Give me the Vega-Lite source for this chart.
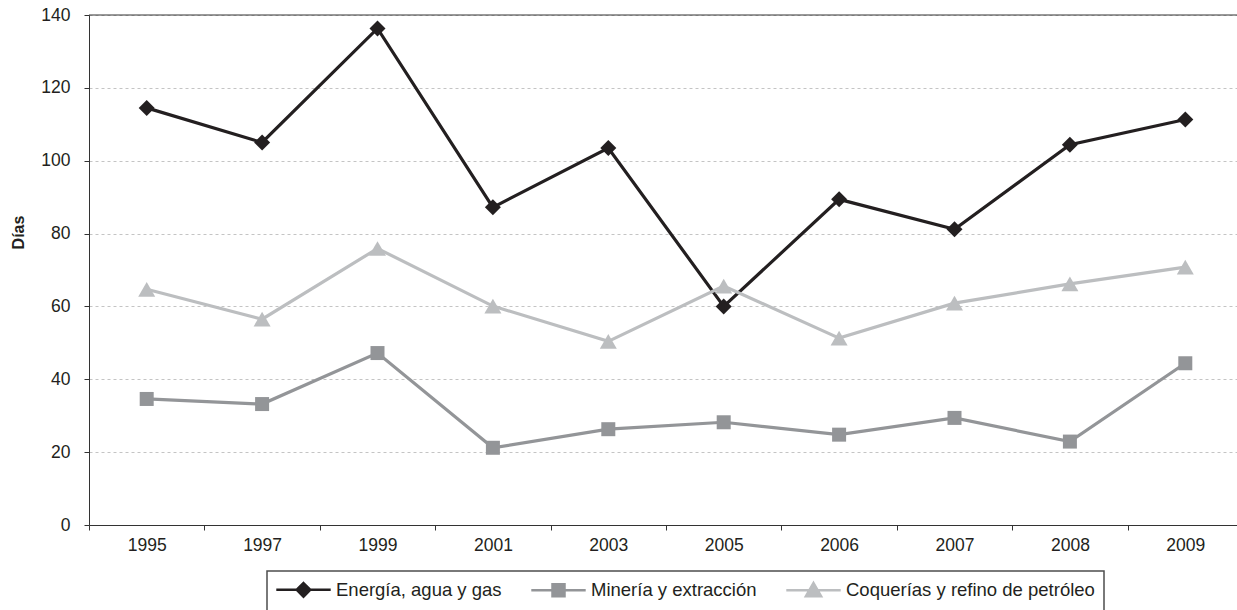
{
  "$schema": "https://vega.github.io/schema/vega-lite/v6.json",
  "width": 1148,
  "height": 510,
  "autosize": {"type": "none"},
  "padding": {"left": 89, "top": 15, "right": 0, "bottom": 85},
  "background": "white",
  "config": {
    "view": {"stroke": null},
    "font": "Liberation Sans",
    "axis": {
      "labelFont": "Liberation Sans",
      "labelColor": "#231f20",
      "labelFontSize": 17.5,
      "domainColor": "#333333",
      "tickColor": "#333333",
      "domainWidth": 1,
      "tickWidth": 1
    }
  },
  "datasets": {
    "main": [
      {"year": "1995", "serie": "Energía, agua y gas", "dias": 114.5},
      {"year": "1997", "serie": "Energía, agua y gas", "dias": 105.0},
      {"year": "1999", "serie": "Energía, agua y gas", "dias": 136.3},
      {"year": "2001", "serie": "Energía, agua y gas", "dias": 87.2},
      {"year": "2003", "serie": "Energía, agua y gas", "dias": 103.5},
      {"year": "2005", "serie": "Energía, agua y gas", "dias": 60.0},
      {"year": "2006", "serie": "Energía, agua y gas", "dias": 89.4},
      {"year": "2007", "serie": "Energía, agua y gas", "dias": 81.2},
      {"year": "2008", "serie": "Energía, agua y gas", "dias": 104.4},
      {"year": "2009", "serie": "Energía, agua y gas", "dias": 111.3},
      {"year": "1995", "serie": "Minería y extracción", "dias": 34.6},
      {"year": "1997", "serie": "Minería y extracción", "dias": 33.2},
      {"year": "1999", "serie": "Minería y extracción", "dias": 47.2},
      {"year": "2001", "serie": "Minería y extracción", "dias": 21.2},
      {"year": "2003", "serie": "Minería y extracción", "dias": 26.3},
      {"year": "2005", "serie": "Minería y extracción", "dias": 28.2},
      {"year": "2006", "serie": "Minería y extracción", "dias": 24.8},
      {"year": "2007", "serie": "Minería y extracción", "dias": 29.4},
      {"year": "2008", "serie": "Minería y extracción", "dias": 22.9},
      {"year": "2009", "serie": "Minería y extracción", "dias": 44.4},
      {"year": "1995", "serie": "Coquerías y refino de petróleo", "dias": 64.7},
      {"year": "1997", "serie": "Coquerías y refino de petróleo", "dias": 56.5},
      {"year": "1999", "serie": "Coquerías y refino de petróleo", "dias": 75.9},
      {"year": "2001", "serie": "Coquerías y refino de petróleo", "dias": 60.1},
      {"year": "2003", "serie": "Coquerías y refino de petróleo", "dias": 50.4},
      {"year": "2005", "serie": "Coquerías y refino de petróleo", "dias": 65.6},
      {"year": "2006", "serie": "Coquerías y refino de petróleo", "dias": 51.3},
      {"year": "2007", "serie": "Coquerías y refino de petróleo", "dias": 60.9},
      {"year": "2008", "serie": "Coquerías y refino de petróleo", "dias": 66.2},
      {"year": "2009", "serie": "Coquerías y refino de petróleo", "dias": 70.8}
    ],
    "border": [{"top": 140}]
  },
  "layer": [
    {
      "data": {"name": "main"},
      "mark": {"type": "line", "strokeWidth": 3.2},
      "encoding": {
        "x": {
          "field": "year",
          "type": "ordinal",
          "bandPosition": 0.5,
          "scale": {"type": "band", "range": [0, 1154], "paddingInner": 0, "paddingOuter": 0},
          "axis": {
            "title": null,
            "labelAngle": 0,
            "tickBand": "extent",
            "tickSize": 5,
            "labelPadding": 6,
            "grid": false
          }
        },
        "y": {
          "field": "dias",
          "type": "quantitative",
          "scale": {"domain": [0, 140], "nice": false},
          "axis": {
            "title": "Días",
            "values": [0, 20, 40, 60, 80, 100, 120, 140],
            "tickSize": 5,
            "labelPadding": 14,
            "grid": true,
            "gridDash": [3, 3],
            "gridColor": "#c4c4c4",
            "gridWidth": 1,
            "titleFont": "Liberation Sans Narrow, Liberation Sans",
            "titleFontWeight": "bold",
            "titleFontSize": 16,
            "titleColor": "#231f20",
            "titleX": -71,
            "titleY": 217,
            "titleAlign": "center",
            "titleBaseline": "middle",
            "titleAngle": -90
          }
        },
        "color": {
          "field": "serie",
          "type": "nominal",
          "sort": null,
          "scale": {
            "domain": ["Energía, agua y gas", "Minería y extracción", "Coquerías y refino de petróleo"],
            "range": ["#231f20", "#939598", "#bcbec0"]
          },
          "legend": {
            "title": null,
            "orient": "none",
            "legendX": 178,
            "legendY": 556,
            "direction": "horizontal",
            "padding": 9,
            "strokeColor": "#4d4d4d",
            "labelFont": "Liberation Sans",
            "labelFontSize": 18.5,
            "labelColor": "#231f20",
            "labelLimit": 500,
            "symbolSize": 256,
            "symbolStrokeWidth": 2,
            "symbolOffset": 18,
            "labelOffset": 23,
            "columnPadding": 24,
            "encode": {
              "legend": {"update": {"strokeWidth": {"value": 1.5}}},
              "symbols": {
                "update": {
                  "fill": {"scale": "color", "field": "value"},
                  "stroke": {"scale": "color", "field": "value"},
                  "strokeWidth": {"value": 2.5},
                  "opacity": {"value": 1},
                  "shape": {"signal": "datum.value === 'Energía, agua y gas' ? 'M-3.4,0H3.4M0,-0.85L0.85,0L0,0.85L-0.85,0Z' : (datum.value === 'Minería y extracción' ? 'M-3.4,0H3.4M-0.75,-0.75H0.75V0.75H-0.75Z' : 'M-3.4,0H3.4M0,-0.9L0.95,0.75L-0.95,0.75Z')"}
                }
              }
            }
          }
        }
      }
    },
    {
      "data": {"name": "main"},
      "transform": [{"filter": "datum.serie === 'Energía, agua y gas'"}],
      "mark": {"type": "point", "shape": "diamond", "filled": true, "opacity": 1, "size": 256, "color": "#231f20"},
      "encoding": {
        "x": {"field": "year", "type": "ordinal", "bandPosition": 0.5},
        "y": {"field": "dias", "type": "quantitative"}
      }
    },
    {
      "data": {"name": "main"},
      "transform": [{"filter": "datum.serie === 'Minería y extracción'"}],
      "mark": {"type": "point", "shape": "square", "filled": true, "opacity": 1, "size": 196, "color": "#939598"},
      "encoding": {
        "x": {"field": "year", "type": "ordinal", "bandPosition": 0.5},
        "y": {"field": "dias", "type": "quantitative"}
      }
    },
    {
      "data": {"name": "main"},
      "transform": [{"filter": "datum.serie === 'Coquerías y refino de petróleo'"}],
      "mark": {"type": "point", "shape": "triangle-up", "filled": true, "opacity": 1, "size": 289, "color": "#bcbec0"},
      "encoding": {
        "x": {"field": "year", "type": "ordinal", "bandPosition": 0.5},
        "y": {"field": "dias", "type": "quantitative"}
      }
    },
    {
      "data": {"name": "border"},
      "mark": {"type": "rule", "color": "#333333", "strokeWidth": 1},
      "encoding": {"y": {"field": "top", "type": "quantitative"}}
    }
  ]
}
